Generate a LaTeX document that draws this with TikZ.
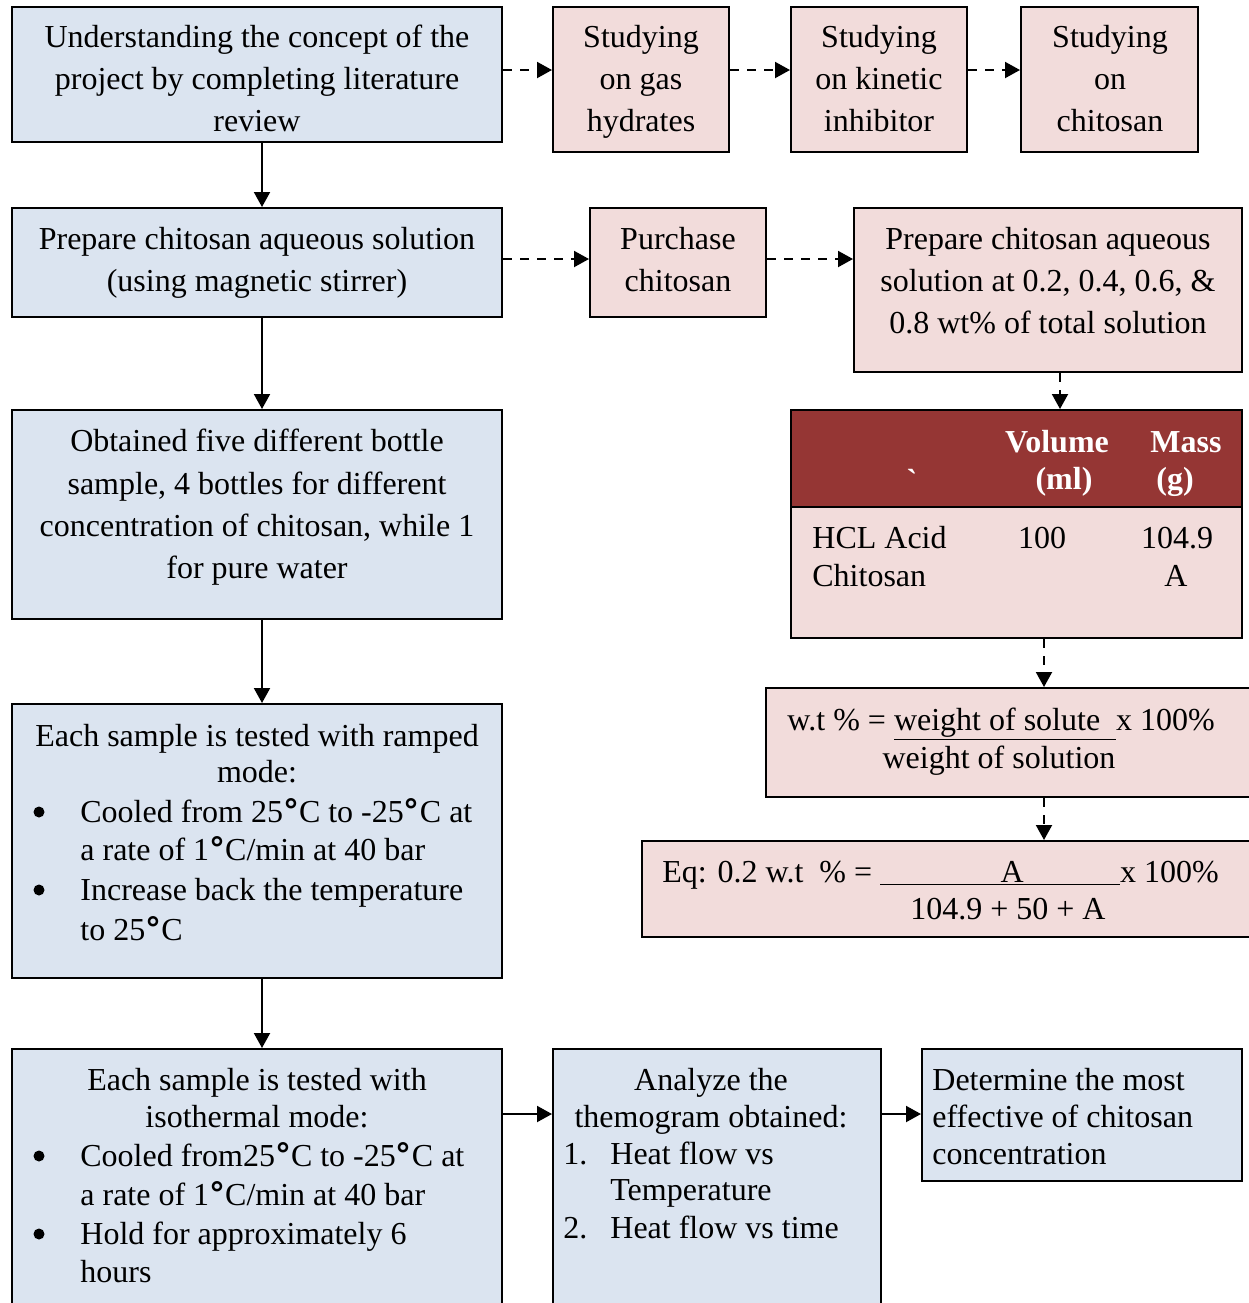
\documentclass[tikz,border=0pt]{standalone}
\usepackage{fontspec}
\setmainfont{Liberation Serif}
\newfontfamily\dgfont{DejaVu Sans}
\usetikzlibrary{arrows.meta,fit}
\definecolor{boxblue}{RGB}{219,228,240}
\definecolor{boxpink}{RGB}{242,220,219}
\definecolor{hdrred}{RGB}{149,54,52}
\newcommand\dgC{{\dgfont\bfseries °}C}
\begin{document}
\begin{tikzpicture}[x=0.5pt,y=-0.5pt,
  box/.style={draw=black,line width=1pt,inner sep=0pt},
  bluebox/.style={box,fill=boxblue},
  pinkbox/.style={box,fill=boxpink},
  t/.style={font=\fontsize{16}{19}\selectfont,inner sep=0pt,text height=11pt,text depth=3.5pt,yshift=-1.75pt},
  tl/.style={t,anchor=west},
  th/.style={t,font=\fontsize{16}{19}\selectfont\bfseries,text=white},
  bul/.style={circle,fill=black,inner sep=0pt,minimum size=5.5pt},
  arr/.style={-{Triangle[length=7.5pt,width=8pt]},line width=1pt},
  darr/.style={arr,dash pattern=on 4.5pt off 4pt}]
\clip (0,0) rectangle (1249,1303);
\fill[white] (0,0) rectangle (1249,1303);
% boxes
\node[bluebox,fit={(12,7)(502,142)}] (A) {};
\node[pinkbox,fit={(553,7)(729,152)}] (P1) {};
\node[pinkbox,fit={(791,7)(967,152)}] (P2) {};
\node[pinkbox,fit={(1021,7)(1198,152)}] (P3) {};
\node[bluebox,fit={(12,208)(502,317)}] (B) {};
\node[pinkbox,fit={(590,208)(766,317)}] (Pur) {};
\node[pinkbox,fit={(854,208)(1242,372)}] (Prep) {};
\fill[boxpink] (791,410) rectangle (1242,638);
\fill[hdrred] (791,410) rectangle (1242,507);
\draw[line width=1pt] (791,507) -- (1242,507);
\node[box,fit={(791,410)(1242,638)}] (Tab) {};
\node[bluebox,fit={(12,410)(502,619)}] (C) {};
\node[pinkbox,fit={(766,688)(1262,797)}] (W) {};
\node[pinkbox,fit={(642,841)(1262,937)}] (Eq) {};
\node[bluebox,fit={(12,704)(502,978)}] (D) {};
\node[bluebox,fit={(12,1049)(502,1320)}] (E) {};
\node[bluebox,fit={(553,1049)(881,1320)}] (F) {};
\node[bluebox,fit={(922,1049)(1242,1181)}] (G) {};
% connectors
\coordinate (r1) at (0,70);
\coordinate (r2) at (0,259);
\coordinate (r3) at (0,1114);
\coordinate (c1) at (262,0);
\coordinate (c2) at (1060,0);
\coordinate (c3) at (1044,0);
\draw[darr] (A.east |- r1) -- (P1.west |- r1);
\draw[darr] (P1.east |- r1) -- (P2.west |- r1);
\draw[darr] (P2.east |- r1) -- (P3.west |- r1);
\draw[darr] (B.east |- r2) -- (Pur.west |- r2);
\draw[darr] (Pur.east |- r2) -- (Prep.west |- r2);
\draw[arr] (A.south -| c1) -- (B.north -| c1);
\draw[arr] (B.south -| c1) -- (C.north -| c1);
\draw[arr] (C.south -| c1) -- (D.north -| c1);
\draw[arr] (D.south -| c1) -- (E.north -| c1);
\draw[darr] (Prep.south -| c2) -- (Tab.north -| c2);
\draw[darr] (Tab.south -| c3) -- (W.north -| c3);
\draw[darr] (W.south -| c3) -- (Eq.north -| c3);
\draw[arr] (E.east |- r3) -- (F.west |- r3);
\draw[arr] (F.east |- r3) -- (G.west |- r3);
% texts
\node[t] (a1) at (257,36) {Understanding the concept of the};
\node[t] (a2) at (257,78) {project by completing literature};
\node[t] (a3) at (257,120) {review};
\node[t] (p11) at (641,36) {Studying};
\node[t] (p12) at (641,78) {on gas};
\node[t] (p13) at (641,120) {hydrates};
\node[t] (p21) at (879,36) {Studying};
\node[t] (p22) at (879,78) {on kinetic};
\node[t] (p23) at (879,120) {inhibitor};
\node[t] (p31) at (1110,36) {Studying};
\node[t] (p32) at (1110,78) {on};
\node[t] (p33) at (1110,120) {chitosan};
\node[t] (b1) at (257,238) {Prepare chitosan aqueous solution};
\node[t] (b2) at (257,280) {(using magnetic stirrer)};
\node[t] (u1) at (678,238) {Purchase};
\node[t] (u2) at (678,280) {chitosan};
\node[t] (q1) at (1048,238) {Prepare chitosan aqueous};
\node[t] (q2) at (1048,280) {solution at 0.2, 0.4, 0.6, \&};
\node[t] (q3) at (1048,322) {0.8 wt\% of total solution};
\node[th] (h0) at (912,480) {\addfontfeatures{Ligatures=TeXOff}`};
\node[th] (h1) at (1057,441) {Volume};
\node[th] (h2) at (1064,478) {(ml)};
\node[th] (h3) at (1186,441) {Mass};
\node[th] (h4) at (1175,478) {(g)};
\node[tl] (k1) at (812,537) {HCL Acid};
\node[t] (k2) at (1042,537) {100};
\node[t] (k3) at (1177,537) {104.9};
\node[tl] (k4) at (812,575) {Chitosan};
\node[t] (k5) at (1176,575) {A};
\node[t] (o1) at (257,440) {Obtained five different bottle};
\node[t] (o2) at (257,483) {sample, 4 bottles for different};
\node[t] (o3) at (257,525) {concentration of chitosan, while 1};
\node[t] (o4) at (257,567) {for pure water};
\node[tl] (w1) at (787,719) {w.t \% = \underline{weight of solute\ \ }x 100\%};
\node[t] (w2) at (999,757) {weight of solution};
\node[tl] (e1) at (662,871) {Eq: 0.2 w.t\ \ \% = \underline{\makebox[120pt]{\hspace{12pt}A}}x 100\%};
\node[t] (e2) at (1008,908) {104.9 + 50 + A};
\node[t] (d1) at (257,735) {Each sample is tested with ramped};
\node[t] (d2) at (257,771) {mode:};
\node[bul] (d3) at (39,812) {};
\node[tl] (d4) at (80,811) {Cooled from 25\dgC{} to -25\dgC{} at};
\node[tl] (d5) at (80,849) {a rate of 1\dgC/min at 40 bar};
\node[bul] (d6) at (39,890) {};
\node[tl] (d7) at (80,889) {Increase back the temperature};
\node[tl] (d8) at (80,929) {to 25\dgC};
\node[t] (s1) at (257,1079) {Each sample is tested with};
\node[t] (s2) at (257,1116) {isothermal mode:};
\node[bul] (s3) at (39,1156) {};
\node[tl] (s4) at (80,1155) {Cooled from25\dgC{} to -25\dgC{} at};
\node[tl] (s5) at (80,1194) {a rate of 1\dgC/min at 40 bar};
\node[bul] (s6) at (39,1234) {};
\node[tl] (s7) at (80,1233) {Hold for approximately 6};
\node[tl] (s8) at (80,1271) {hours};
\node[t] (f1) at (711,1079) {Analyze the};
\node[t] (f2) at (711,1116) {themogram obtained:};
\node[tl] (f3) at (563,1153) {1.};
\node[tl] (f4) at (610,1153) {Heat flow vs};
\node[tl] (f5) at (610,1189) {Temperature};
\node[tl] (f6) at (563,1227) {2.};
\node[tl] (f7) at (610,1227) {Heat flow vs time};
\node[tl] (g1) at (932,1079) {Determine the most};
\node[tl] (g2) at (932,1116) {effective of chitosan};
\node[tl] (g3) at (932,1153) {concentration};
\end{tikzpicture}
\end{document}
